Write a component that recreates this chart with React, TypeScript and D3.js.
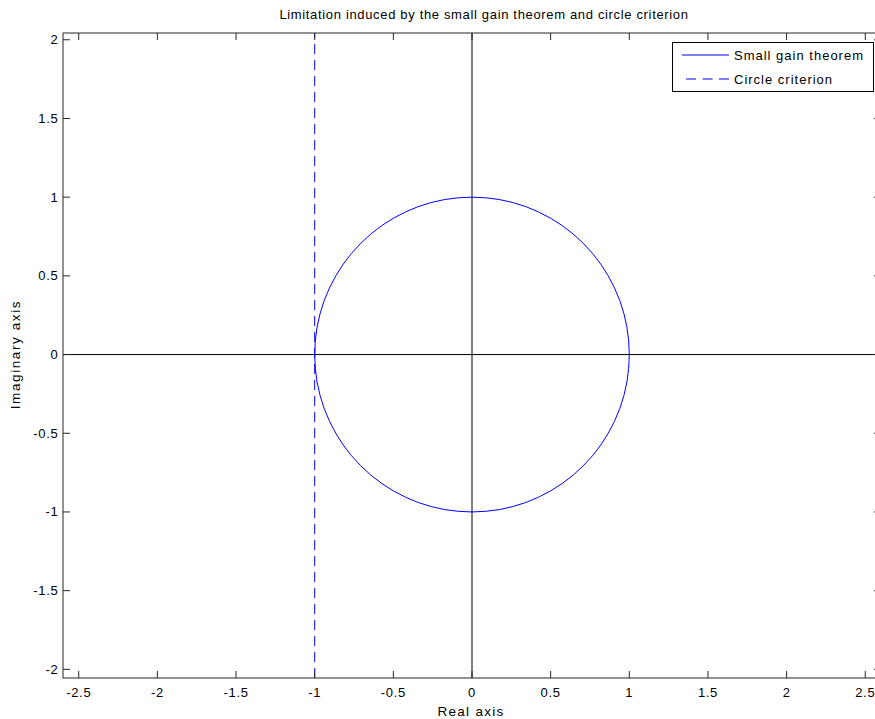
import React from "react";
import * as d3 from "d3";

const title = "Limitation induced by the small gain theorem and circle criterion";
const xLabel = "Real axis";
const yLabel = "Imaginary axis";
const xTicks = [-2.5, -2, -1.5, -1, -0.5, 0, 0.5, 1, 1.5, 2, 2.5];
const yTicks = [-2, -1.5, -1, -0.5, 0, 0.5, 1, 1.5, 2];
const xDomain = [-2.6, 2.6];
const yDomain = [-2.055, 2.043];

// Small gain theorem: unit circle (real / imaginary parts)
const circleRe = [1, 0.996, 0.985, 0.966, 0.94, 0.906, 0.866, 0.819, 0.766, 0.707, 0.643, 0.574, 0.5, 0.423, 0.342, 0.259, 0.174, 0.087, 0,
  -0.087, -0.174, -0.259, -0.342, -0.423, -0.5, -0.574, -0.643, -0.707, -0.766, -0.819, -0.866, -0.906, -0.94, -0.966, -0.985, -0.996, -1,
  -0.996, -0.985, -0.966, -0.94, -0.906, -0.866, -0.819, -0.766, -0.707, -0.643, -0.574, -0.5, -0.423, -0.342, -0.259, -0.174, -0.087, 0,
  0.087, 0.174, 0.259, 0.342, 0.423, 0.5, 0.574, 0.643, 0.707, 0.766, 0.819, 0.866, 0.906, 0.94, 0.966, 0.985, 0.996, 1];
const circleIm = [0, 0.087, 0.174, 0.259, 0.342, 0.423, 0.5, 0.574, 0.643, 0.707, 0.766, 0.819, 0.866, 0.906, 0.94, 0.966, 0.985, 0.996, 1,
  0.996, 0.985, 0.966, 0.94, 0.906, 0.866, 0.819, 0.766, 0.707, 0.643, 0.574, 0.5, 0.423, 0.342, 0.259, 0.174, 0.087, 0,
  -0.087, -0.174, -0.259, -0.342, -0.423, -0.5, -0.574, -0.643, -0.707, -0.766, -0.819, -0.866, -0.906, -0.94, -0.966, -0.985, -0.996, -1,
  -0.996, -0.985, -0.966, -0.94, -0.906, -0.866, -0.819, -0.766, -0.707, -0.643, -0.574, -0.5, -0.423, -0.342, -0.259, -0.174, -0.087, 0];
// Circle criterion: vertical line Re = -1
const critRe = [-1, -1];
const critIm = [-2.055, 2.043];

const legendItems = ["Small gain theorem", "Circle criterion"];

export default function App() {
  const left = 63, top = 33, bottom = 678, right = 881;
  const x = d3.scaleLinear().domain(xDomain).range([left, right]);
  const y = d3.scaleLinear().domain(yDomain).range([bottom, top]);
  const line = d3.line<[number, number]>().x(d => x(d[0])).y(d => y(d[1]));
  const circlePts: [number, number][] = circleRe.map((r, i) => [r, circleIm[i]]);
  const critPts: [number, number][] = critRe.map((r, i) => [r, critIm[i]]);
  const font = "'Liberation Sans', Arial, sans-serif";
  const tl = 7;
  const axisColor = "#262626";
  return (
    <svg width={875} height={719} style={{ position: "absolute", left: 0, top: 0, background: "#fff" }} fontFamily={font}>
      <rect x={0} y={0} width={875} height={719} fill="#fff" />
      {/* zero axes */}
      <line x1={x(0)} x2={x(0)} y1={top} y2={bottom} stroke="#000" strokeWidth={1} />
      <line x1={left} x2={right} y1={y(0)} y2={y(0)} stroke="#000" strokeWidth={1} />
      {/* data */}
      <path d={line(circlePts) || ""} fill="none" stroke="#0000ff" strokeWidth={1} />
      <path d={line(critPts) || ""} fill="none" stroke="#0000ff" strokeWidth={1} strokeDasharray="10,6" />
      {/* frame */}
      <rect x={left} y={top} width={right - left} height={bottom - top} fill="none" stroke={axisColor} strokeWidth={1} />
      {xTicks.map(t => (
        <g key={"x" + t}>
          <line x1={x(t)} x2={x(t)} y1={bottom} y2={bottom - tl} stroke={axisColor} />
          <line x1={x(t)} x2={x(t)} y1={top} y2={top + tl} stroke={axisColor} />
          <text x={x(t)} y={697} textAnchor="middle" fontSize={13} letterSpacing={0.7} fill="#000">{t}</text>
        </g>
      ))}
      {yTicks.map(t => (
        <g key={"y" + t}>
          <line x1={left} x2={left + tl} y1={y(t)} y2={y(t)} stroke={axisColor} />
          <line x1={right} x2={right - tl} y1={y(t)} y2={y(t)} stroke={axisColor} />
          <text x={58.5} y={y(t) + 4.5} textAnchor="end" fontSize={13} letterSpacing={0.7} fill="#000">{t}</text>
        </g>
      ))}
      <text x={484} y={19} textAnchor="middle" fontSize={13} letterSpacing={0.66} fill="#000">{title}</text>
      <text x={471} y={716} textAnchor="middle" fontSize={13.5} letterSpacing={1.3} fill="#000">{xLabel}</text>
      <text transform={`translate(20,${y(0)}) rotate(-90)`} textAnchor="middle" fontSize={13.5} letterSpacing={1.6} fill="#000">{yLabel}</text>
      {/* legend */}
      <rect x={672.5} y={42.5} width={201} height={49} fill="#fff" stroke="#000" strokeWidth={1} />
      {legendItems.map((name, i) => (
        <g key={name}>
          <line x1={i === 1 ? 686 : 682} x2={729} y1={55 + i * 24} y2={55 + i * 24} stroke="#0000ff" strokeWidth={1}
            strokeDasharray={i === 1 ? "10,6.5" : undefined} />
          <text x={734} y={59.5 + i * 24} fontSize={13} letterSpacing={1.0} fill="#000">{name}</text>
        </g>
      ))}
    </svg>
  );
}
